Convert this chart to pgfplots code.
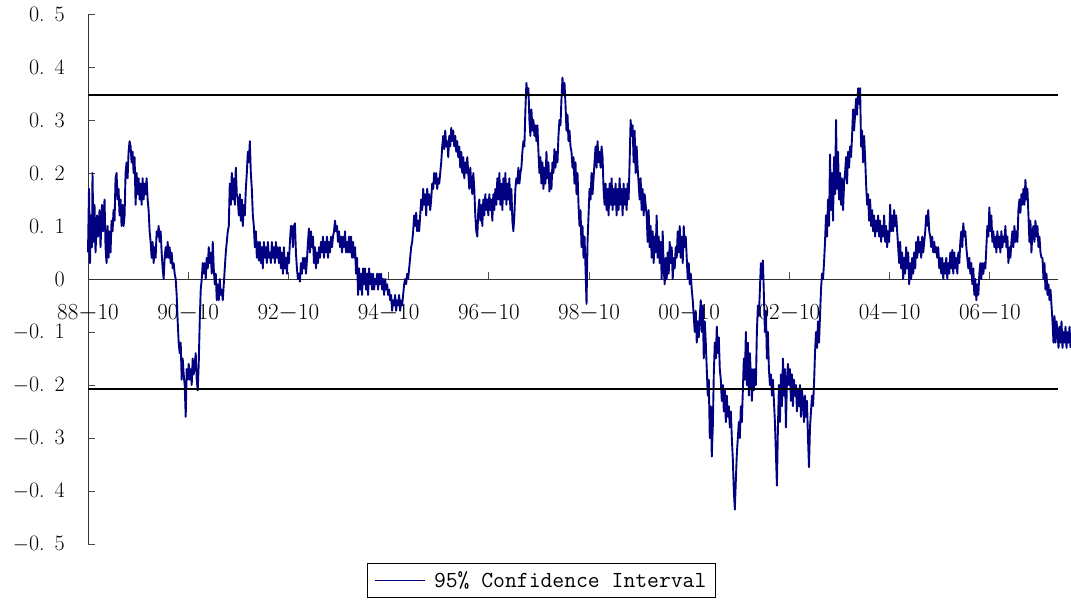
\documentclass[border=0pt]{standalone}
\usepackage{pgfplots}
\pgfplotsset{compat=1.18}
\usepackage{fontspec}
\definecolor{navyline}{RGB}{0,0,128}
\begin{document}
\begin{tikzpicture}
\useasboundingbox (-88pt,-56pt) rectangle (983pt,544pt);
\begin{axis}[
  scale only axis, width=970pt, height=530pt,
  xmin=0, xmax=19.36, ymin=-0.5, ymax=0.5,
  axis y line*=left, axis x line*=middle,
  hide obscured x ticks=false,
  clip=false,
  axis line style={line width=0.9pt, black!80},
  xtick={0,2,4,6,8,10,12,14,16,18},
  xticklabels={88$-$10,90$-$10,92$-$10,94$-$10,96$-$10,98$-$10,00$-$10,02$-$10,04$-$10,06$-$10},
  ytick={-0.5,-0.4,-0.3,-0.2,-0.1,0,0.1,0.2,0.3,0.4,0.5},
  yticklabels={$-$0.\hspace{10pt}5,$-$0.\hspace{10pt}4,$-$0.\hspace{10pt}3,$-$0.\hspace{10pt}2,$-$0.\hspace{10pt}1,0,0.\hspace{10pt}1,0.\hspace{10pt}2,0.\hspace{10pt}3,0.\hspace{10pt}4,0.\hspace{10pt}5},
  tick align=inside,
  major tick length=7pt,
  tick style={line width=0.8pt, black!70},
  xticklabel style={font=\fontsize{23}{23}\selectfont, text=black, yshift=-24pt, inner sep=1pt},
  yticklabel style={font=\fontsize{22}{22}\selectfont, text=black, xshift=-22pt, inner sep=1pt},
  legend style={at={(0.2876,-0.036)}, anchor=north west, draw=black, line width=0.8pt,
    font=\ttfamily\fontsize{23}{23}\selectfont, inner xsep=7pt, inner ysep=6pt, legend cell align=left},
  legend image code/.code={\draw[#1,line width=1.4pt] (0pt,0pt) -- (50pt,0pt); \path (56pt,0pt);},
]
\addplot[navyline, line width=1.9pt, line join=round] coordinates {
(0,0.05) (0.02,0.17) (0.04,0.03) (0.06,0.12) (0.08,0.06) (0.09,0.20) (0.11,0.07)
(0.13,0.14) (0.15,0.05) (0.18,0.12) (0.2,0.08) (0.23,0.13) (0.25,0.06) (0.28,0.14) (0.3,0.09)
(0.33,0.15) (0.35,0.06) (0.37,0.03) (0.39,0.10) (0.41,0.04) (0.43,0.09) (0.45,0.05)
(0.47,0.11) (0.49,0.09) (0.51,0.13) (0.53,0.11)
(0.55,0.19) (0.57,0.2) (0.59,0.15) (0.61,0.17)
(0.63,0.12) (0.65,0.15) (0.67,0.1) (0.69,0.14) (0.71,0.1) (0.73,0.12)
(0.75,0.2) (0.77,0.22) (0.79,0.19)
(0.81,0.24) (0.83,0.26) (0.85,0.25) (0.87,0.22)
(0.89,0.24) (0.91,0.2) (0.93,0.23) (0.95,0.14) (0.97,0.2) (0.99,0.16)
(1.01,0.19) (1.03,0.15) (1.05,0.18) (1.07,0.14) (1.09,0.19) (1.11,0.15) (1.13,0.18) (1.15,0.16) (1.17,0.19) (1.19,0.15)
(1.21,0.13) (1.23,0.09) (1.25,0.07)
(1.27,0.04) (1.29,0.07) (1.31,0.03) (1.33,0.06) (1.35,0.04)
(1.37,0.09) (1.39,0.08) (1.41,0.1) (1.43,0.07) (1.45,0.09)
(1.47,0.05) (1.49,0.02) (1.51,0.0) (1.53,0.04)
(1.55,0.06) (1.57,0.04) (1.59,0.07) (1.61,0.04) (1.63,0.06) (1.65,0.03) (1.67,0.05)
(1.69,0.02) (1.71,0.03) (1.73,0.01) (1.75,0.0)
(1.77,-0.03) (1.79,-0.08) (1.81,-0.12)
(1.83,-0.14) (1.85,-0.12) (1.87,-0.19) (1.89,-0.15) (1.91,-0.18)
(1.93,-0.2) (1.95,-0.26) (1.97,-0.17)
(1.99,-0.19) (2.01,-0.16) (2.03,-0.19) (2.05,-0.17) (2.07,-0.2) (2.09,-0.15) (2.11,-0.18) (2.13,-0.16) (2.15,-0.14) (2.17,-0.19) (2.19,-0.21)
(2.21,-0.16) (2.23,-0.08) (2.25,-0.02)
(2.27,0.0) (2.29,0.03) (2.31,0.01) (2.33,0.03) (2.35,0.0)
(2.37,0.04) (2.39,0.02) (2.41,0.06) (2.43,0.03) (2.45,0.05) (2.47,0.01) (2.49,0.07) (2.51,0.02)
(2.53,-0.01) (2.55,0.01) (2.57,-0.04) (2.59,-0.01) (2.61,-0.04) (2.63,0.0) (2.65,-0.03) (2.67,-0.02) (2.69,-0.04) (2.71,-0.01)
(2.73,0.02) (2.75,0.05) (2.77,0.07) (2.79,0.09) (2.81,0.1)
(2.83,0.18) (2.85,0.14) (2.87,0.2) (2.89,0.15) (2.91,0.19) (2.93,0.14) (2.95,0.21) (2.97,0.16)
(2.99,0.15) (3.01,0.12) (3.03,0.16) (3.05,0.11) (3.07,0.15) (3.09,0.1) (3.11,0.14) (3.13,0.12) (3.15,0.17)
(3.17,0.2) (3.19,0.24) (3.21,0.22) (3.23,0.26) (3.25,0.2)
(3.27,0.17) (3.29,0.12)
(3.31,0.1) (3.33,0.06) (3.35,0.09) (3.37,0.04) (3.39,0.07) (3.41,0.035)
(3.43,0.07) (3.45,0.03) (3.47,0.06) (3.49,0.02) (3.51,0.07) (3.53,0.04) (3.55,0.06) (3.57,0.03) (3.59,0.07) (3.61,0.04)
(3.63,0.05) (3.65,0.03) (3.67,0.07) (3.69,0.04) (3.71,0.06) (3.73,0.03) (3.75,0.07) (3.77,0.04) (3.79,0.06) (3.81,0.03)
(3.83,0.06) (3.85,0.02) (3.87,0.05) (3.89,0.01) (3.91,0.06) (3.93,0.02) (3.95,0.04) (3.97,0.01) (3.99,0.05) (4.01,0.03)
(4.03,0.07) (4.05,0.1) (4.07,0.1) (4.09,0.06) (4.11,0.1) (4.13,0.105) (4.15,0.05)
(4.17,0.02) (4.19,0.0) (4.21,0.01) (4.23,-0.005)
(4.25,0.03) (4.27,0.01) (4.29,0.04) (4.31,0.02) (4.33,0.04) (4.35,0.01) (4.37,0.035)
(4.39,0.07) (4.41,0.095) (4.43,0.05) (4.45,0.09) (4.47,0.06) (4.49,0.08)
(4.51,0.03) (4.53,0.06) (4.55,0.02) (4.57,0.05) (4.59,0.03) (4.61,0.06) (4.63,0.04) (4.65,0.07)
(4.67,0.05) (4.69,0.08) (4.71,0.04) (4.73,0.07) (4.75,0.05) (4.77,0.08) (4.79,0.04) (4.81,0.07) (4.83,0.05) (4.85,0.08) (4.87,0.06)
(4.89,0.08) (4.91,0.09) (4.93,0.11) (4.95,0.09) (4.97,0.1)
(4.99,0.07) (5.01,0.09) (5.03,0.06) (5.05,0.08) (5.07,0.05) (5.09,0.08) (5.11,0.06) (5.13,0.09) (5.15,0.05) (5.17,0.07) (5.19,0.05) (5.21,0.08)
(5.23,0.05) (5.25,0.08) (5.27,0.04) (5.29,0.07) (5.31,0.04) (5.33,0.06)
(5.35,0.01) (5.37,0.04) (5.39,-0.03) (5.41,0.02) (5.43,-0.02) (5.45,0.01)
(5.47,-0.03) (5.49,0.02) (5.51,-0.01) (5.53,0.02) (5.55,-0.02) (5.57,0.01) (5.59,-0.03) (5.61,0.02) (5.63,-0.01) (5.65,0.01) (5.67,-0.02)
(5.69,0.01) (5.71,-0.02) (5.73,0.0) (5.75,-0.01) (5.77,0.01) (5.79,-0.02) (5.81,0.01) (5.83,-0.01) (5.85,0.01) (5.87,-0.02)
(5.89,0.0) (5.91,-0.03) (5.93,0.0) (5.95,-0.02) (5.97,-0.01) (5.99,-0.03) (6.01,-0.02)
(6.03,-0.04) (6.05,-0.03) (6.07,-0.06) (6.09,-0.04) (6.11,-0.05) (6.13,-0.03) (6.15,-0.06) (6.17,-0.04) (6.19,-0.05) (6.21,-0.03) (6.23,-0.06) (6.25,-0.04) (6.27,-0.05)
(6.29,-0.03) (6.31,-0.01) (6.33,0.0) (6.35,-0.01) (6.37,0.01) (6.39,0.0) (6.41,0.02)
(6.43,0.04) (6.45,0.06) (6.47,0.07) (6.49,0.09)
(6.51,0.12) (6.53,0.1) (6.55,0.125) (6.57,0.09) (6.59,0.11)
(6.61,0.09) (6.63,0.12)
(6.65,0.15) (6.67,0.13) (6.69,0.17) (6.71,0.14) (6.73,0.16) (6.75,0.12) (6.77,0.17) (6.79,0.14) (6.81,0.16) (6.83,0.13) (6.85,0.15)
(6.87,0.18) (6.89,0.17) (6.91,0.2) (6.93,0.18) (6.95,0.2) (6.97,0.17) (6.99,0.19) (7.01,0.18) (7.03,0.2) (7.05,0.22)
(7.07,0.25) (7.09,0.27) (7.11,0.245) (7.13,0.28) (7.15,0.25) (7.17,0.26) (7.19,0.23)
(7.21,0.27) (7.23,0.25) (7.25,0.285) (7.27,0.26) (7.29,0.28) (7.31,0.25) (7.33,0.27) (7.35,0.24) (7.37,0.26)
(7.39,0.23) (7.41,0.25) (7.43,0.21) (7.45,0.24) (7.47,0.2) (7.49,0.23) (7.51,0.19) (7.53,0.22) (7.55,0.2) (7.57,0.23)
(7.59,0.2) (7.61,0.17) (7.63,0.21) (7.65,0.18) (7.67,0.16) (7.69,0.2) (7.71,0.17)
(7.73,0.12) (7.75,0.09) (7.77,0.08) (7.79,0.13)
(7.81,0.15) (7.83,0.11) (7.85,0.14) (7.87,0.1) (7.89,0.15) (7.91,0.12) (7.93,0.16) (7.95,0.13) (7.97,0.15) (7.99,0.12) (8.01,0.16) (8.03,0.13) (8.05,0.15) (8.07,0.11) (8.09,0.16) (8.11,0.13)
(8.13,0.17) (8.15,0.14) (8.17,0.19) (8.19,0.15) (8.21,0.2) (8.23,0.14) (8.25,0.18) (8.27,0.13) (8.29,0.19) (8.31,0.15) (8.33,0.2) (8.35,0.14) (8.37,0.18) (8.39,0.15) (8.41,0.19) (8.43,0.13) (8.45,0.17)
(8.47,0.11) (8.49,0.09) (8.51,0.12)
(8.53,0.17) (8.55,0.19) (8.57,0.18) (8.59,0.21) (8.61,0.18) (8.63,0.2) (8.65,0.21)
(8.67,0.24) (8.69,0.26) (8.71,0.25)
(8.73,0.32) (8.75,0.37) (8.77,0.35) (8.79,0.36)
(8.81,0.3) (8.83,0.27) (8.85,0.32) (8.87,0.28) (8.89,0.3) (8.91,0.27) (8.93,0.29) (8.95,0.26) (8.97,0.29)
(8.99,0.24) (9.01,0.2) (9.03,0.23) (9.05,0.18) (9.07,0.22) (9.09,0.17) (9.11,0.21) (9.13,0.18) (9.15,0.24) (9.17,0.19) (9.19,0.22) (9.21,0.165) (9.23,0.2) (9.25,0.17)
(9.27,0.22) (9.29,0.2) (9.31,0.245) (9.33,0.21) (9.35,0.24) (9.37,0.22)
(9.39,0.27) (9.41,0.3) (9.43,0.29)
(9.45,0.34) (9.47,0.38) (9.49,0.35) (9.51,0.37)
(9.53,0.33) (9.55,0.28) (9.57,0.31) (9.59,0.26) (9.61,0.28) (9.63,0.25)
(9.65,0.24) (9.67,0.21) (9.69,0.23) (9.71,0.18) (9.73,0.22) (9.75,0.16) (9.77,0.2)
(9.79,0.14) (9.81,0.1) (9.83,0.13) (9.85,0.06) (9.87,0.1) (9.89,0.04)
(9.91,0.08) (9.93,0.02) (9.95,-0.047) (9.97,0.07) (9.99,0.12)
(10.01,0.17) (10.03,0.15) (10.05,0.2) (10.07,0.16) (10.09,0.19)
(10.11,0.22) (10.13,0.25) (10.15,0.21) (10.17,0.26) (10.19,0.22) (10.21,0.24) (10.23,0.21) (10.25,0.25) (10.27,0.23)
(10.29,0.17) (10.31,0.14) (10.33,0.18) (10.35,0.13) (10.37,0.17) (10.39,0.12) (10.41,0.18) (10.43,0.14) (10.45,0.19) (10.47,0.13) (10.49,0.17) (10.51,0.14) (10.53,0.18) (10.55,0.12) (10.57,0.17) (10.59,0.13) (10.61,0.19) (10.63,0.14) (10.65,0.17) (10.67,0.12) (10.69,0.18) (10.71,0.14) (10.73,0.17) (10.75,0.13) (10.77,0.18) (10.79,0.15)
(10.81,0.22) (10.83,0.3) (10.85,0.27) (10.87,0.29)
(10.89,0.22) (10.91,0.28) (10.93,0.2) (10.95,0.25) (10.97,0.21)
(10.99,0.18) (11.01,0.15) (11.03,0.19) (11.05,0.13) (11.07,0.17) (11.09,0.12) (11.11,0.16) (11.13,0.14)
(11.15,0.12) (11.17,0.07) (11.19,0.13) (11.21,0.06) (11.23,0.1) (11.25,0.04) (11.27,0.09) (11.29,0.03) (11.31,0.08) (11.33,0.05) (11.35,0.12) (11.37,0.04) (11.39,0.08) (11.41,0.03)
(11.43,0.07) (11.45,0.0) (11.47,0.09) (11.49,0.02) (11.51,-0.01) (11.53,0.04)
(11.55,0.0) (11.57,0.05) (11.59,0.01) (11.61,0.07) (11.63,0.03) (11.65,0.06) (11.67,0.0) (11.69,0.04) (11.71,0.02) (11.73,0.06)
(11.75,0.04) (11.77,0.09) (11.79,0.05) (11.81,0.1) (11.83,0.04) (11.85,0.08) (11.87,0.03) (11.89,0.1) (11.91,0.06) (11.93,0.08)
(11.95,0.04) (11.97,0.0) (11.99,0.03) (12.01,-0.01) (12.03,0.01) (12.05,-0.02) (12.07,-0.04)
(12.09,-0.07) (12.11,-0.1) (12.13,-0.06) (12.15,-0.12) (12.17,-0.08) (12.19,-0.11) (12.21,-0.07)
(12.23,-0.04) (12.25,-0.1) (12.27,-0.05) (12.29,-0.15) (12.31,-0.08) (12.33,-0.12)
(12.35,-0.17) (12.37,-0.22) (12.39,-0.19) (12.41,-0.3) (12.43,-0.24) (12.45,-0.335) (12.47,-0.28)
(12.49,-0.18) (12.51,-0.12) (12.53,-0.15) (12.55,-0.09) (12.57,-0.14) (12.59,-0.11) (12.61,-0.17)
(12.63,-0.19) (12.65,-0.23) (12.67,-0.2) (12.69,-0.25) (12.71,-0.21) (12.73,-0.27) (12.75,-0.22) (12.77,-0.26) (12.79,-0.24) (12.81,-0.28) (12.83,-0.25) (12.85,-0.3)
(12.87,-0.34) (12.89,-0.4) (12.91,-0.435) (12.93,-0.38)
(12.95,-0.33) (12.97,-0.3) (12.99,-0.27) (13.01,-0.3) (13.03,-0.24) (13.05,-0.27) (13.07,-0.21)
(13.09,-0.15) (13.11,-0.19) (13.13,-0.1)
(13.15,-0.2) (13.17,-0.12) (13.19,-0.22) (13.21,-0.14) (13.23,-0.18)
(13.25,-0.23) (13.27,-0.17) (13.29,-0.21) (13.31,-0.17) (13.33,-0.2)
(13.35,-0.1) (13.37,-0.05) (13.39,-0.07) (13.41,-0.02)
(13.43,0.03) (13.45,0.0) (13.47,0.035)
(13.49,-0.03) (13.51,-0.1) (13.53,-0.06) (13.55,-0.15) (13.57,-0.1)
(13.59,-0.17) (13.61,-0.2) (13.63,-0.18) (13.65,-0.22) (13.67,-0.19) (13.69,-0.23)
(13.71,-0.27) (13.73,-0.33) (13.75,-0.39) (13.77,-0.28)
(13.79,-0.2) (13.81,-0.27) (13.83,-0.18) (13.85,-0.24) (13.87,-0.15) (13.89,-0.22) (13.91,-0.17) (13.93,-0.28) (13.95,-0.19) (13.97,-0.16)
(13.99,-0.2) (14.01,-0.17) (14.03,-0.23) (14.05,-0.18) (14.07,-0.24) (14.09,-0.19)
(14.11,-0.22) (14.13,-0.2) (14.15,-0.25) (14.17,-0.21) (14.19,-0.24) (14.21,-0.2) (14.23,-0.26) (14.25,-0.21) (14.27,-0.23) (14.29,-0.27) (14.31,-0.22) (14.33,-0.26) (14.35,-0.23)
(14.37,-0.3) (14.39,-0.355) (14.41,-0.28)
(14.43,-0.25) (14.45,-0.22) (14.47,-0.24) (14.49,-0.2)
(14.51,-0.14) (14.53,-0.1) (14.55,-0.13) (14.57,-0.08) (14.59,-0.12) (14.61,-0.07)
(14.63,-0.02) (14.65,0.01) (14.67,0.0) (14.69,0.03)
(14.71,0.07) (14.73,0.12) (14.75,0.08)
(14.77,0.15) (14.79,0.1) (14.81,0.235) (14.83,0.13) (14.85,0.2) (14.87,0.11)
(14.89,0.23) (14.91,0.16) (14.93,0.3) (14.95,0.17) (14.97,0.24)
(14.99,0.15) (15.01,0.2) (15.03,0.14) (15.05,0.19) (15.07,0.13) (15.09,0.18)
(15.11,0.2) (15.13,0.23) (15.15,0.18) (15.17,0.24) (15.19,0.21) (15.21,0.25) (15.23,0.23)
(15.25,0.27) (15.27,0.32) (15.29,0.28) (15.31,0.31)
(15.33,0.34) (15.35,0.31) (15.37,0.36) (15.39,0.33) (15.41,0.36)
(15.43,0.25) (15.45,0.28) (15.47,0.22) (15.49,0.27) (15.51,0.23)
(15.53,0.18) (15.55,0.14) (15.57,0.16) (15.59,0.11) (15.61,0.15) (15.63,0.1) (15.65,0.13) (15.67,0.09) (15.69,0.12) (15.71,0.08) (15.73,0.11) (15.75,0.09)
(15.77,0.12) (15.79,0.08) (15.81,0.11) (15.83,0.07) (15.85,0.1) (15.87,0.08) (15.89,0.12) (15.91,0.07) (15.93,0.1) (15.95,0.06) (15.97,0.09) (15.99,0.07) (16.01,0.14) (16.03,0.09)
(16.05,0.12) (16.07,0.09) (16.09,0.13) (16.11,0.1) (16.13,0.12) (16.15,0.09)
(16.17,0.06) (16.19,0.03) (16.21,0.07) (16.23,0.02) (16.25,0.05) (16.27,0.0) (16.29,0.04) (16.31,0.01) (16.33,0.06) (16.35,0.02) (16.37,0.05) (16.39,-0.01) (16.41,0.03) (16.43,0.0) (16.45,0.04) (16.47,0.01)
(16.49,0.05) (16.51,0.02)
(16.53,0.07) (16.55,0.04) (16.57,0.08) (16.59,0.05) (16.61,0.07) (16.63,0.04) (16.65,0.08) (16.67,0.05) (16.69,0.07)
(16.71,0.09) (16.73,0.12) (16.75,0.1) (16.77,0.13) (16.79,0.09)
(16.81,0.08) (16.83,0.06) (16.85,0.08) (16.87,0.05) (16.89,0.07) (16.91,0.05) (16.93,0.06) (16.95,0.04) (16.97,0.06)
(16.99,0.02) (17.01,0.04) (17.03,0.01) (17.05,0.04) (17.07,0.0) (17.09,0.03) (17.11,0.01) (17.13,0.04) (17.15,0.0) (17.17,0.03) (17.19,0.01)
(17.21,0.05) (17.23,0.02) (17.25,0.055) (17.27,0.01) (17.29,0.05) (17.31,0.02) (17.33,0.04) (17.35,0.01) (17.37,0.05) (17.39,0.03)
(17.41,0.07) (17.43,0.09) (17.45,0.06) (17.47,0.105) (17.49,0.08) (17.51,0.09) (17.53,0.06)
(17.55,0.04) (17.57,0.02) (17.59,0.04) (17.61,0.01) (17.63,0.03)
(17.65,-0.01) (17.67,0.02) (17.69,-0.03) (17.71,0.0) (17.73,-0.04) (17.75,-0.01) (17.77,-0.03)
(17.79,0.01) (17.81,0.03) (17.83,0.0) (17.85,0.03) (17.87,0.01) (17.89,0.03) (17.91,0.02)
(17.93,0.06) (17.95,0.1) (17.97,0.08) (17.99,0.135) (18.01,0.09) (18.03,0.12)
(18.05,0.07) (18.07,0.09) (18.09,0.06) (18.11,0.08) (18.13,0.05) (18.15,0.09) (18.17,0.06) (18.19,0.08) (18.21,0.05) (18.23,0.09) (18.25,0.06) (18.27,0.08) (18.29,0.07)
(18.31,0.1) (18.33,0.06) (18.35,0.08) (18.37,0.03) (18.39,0.06) (18.41,0.04) (18.43,0.07)
(18.45,0.09) (18.47,0.06) (18.49,0.1) (18.51,0.07) (18.53,0.09) (18.55,0.07)
(18.57,0.13) (18.59,0.15) (18.61,0.125) (18.63,0.16) (18.65,0.14) (18.67,0.17) (18.69,0.14) (18.71,0.187) (18.73,0.15) (18.75,0.17)
(18.77,0.12) (18.79,0.07) (18.81,0.11) (18.83,0.05) (18.85,0.09)
(18.87,0.1) (18.89,0.07) (18.91,0.11) (18.93,0.08) (18.95,0.1) (18.97,0.06) (18.99,0.08) (19.01,0.05) (19.03,0.04)
(19.05,0.04) (19.07,0.0) (19.09,0.03) (19.11,-0.02) (19.13,0.01) (19.15,-0.03) (19.17,-0.01) (19.19,-0.04) (19.21,-0.02) (19.23,-0.05)
(19.25,-0.08) (19.27,-0.12) (19.29,-0.07) (19.31,-0.12) (19.33,-0.08) (19.35,-0.1)
(19.37,-0.13) (19.39,-0.09) (19.41,-0.12) (19.43,-0.08) (19.45,-0.13) (19.47,-0.1) (19.49,-0.12) (19.51,-0.09) (19.53,-0.13) (19.55,-0.1) (19.57,-0.12) (19.59,-0.09) (19.61,-0.13)
};
\addlegendentry{95\% Confidence Interval}
\addplot[black, line width=1.4pt, forget plot] coordinates {(0,0.347) (19.36,0.347)};
\addplot[black, line width=1.4pt, forget plot] coordinates {(0,-0.2075) (19.36,-0.2075)};
\end{axis}
\end{tikzpicture}
\end{document}
